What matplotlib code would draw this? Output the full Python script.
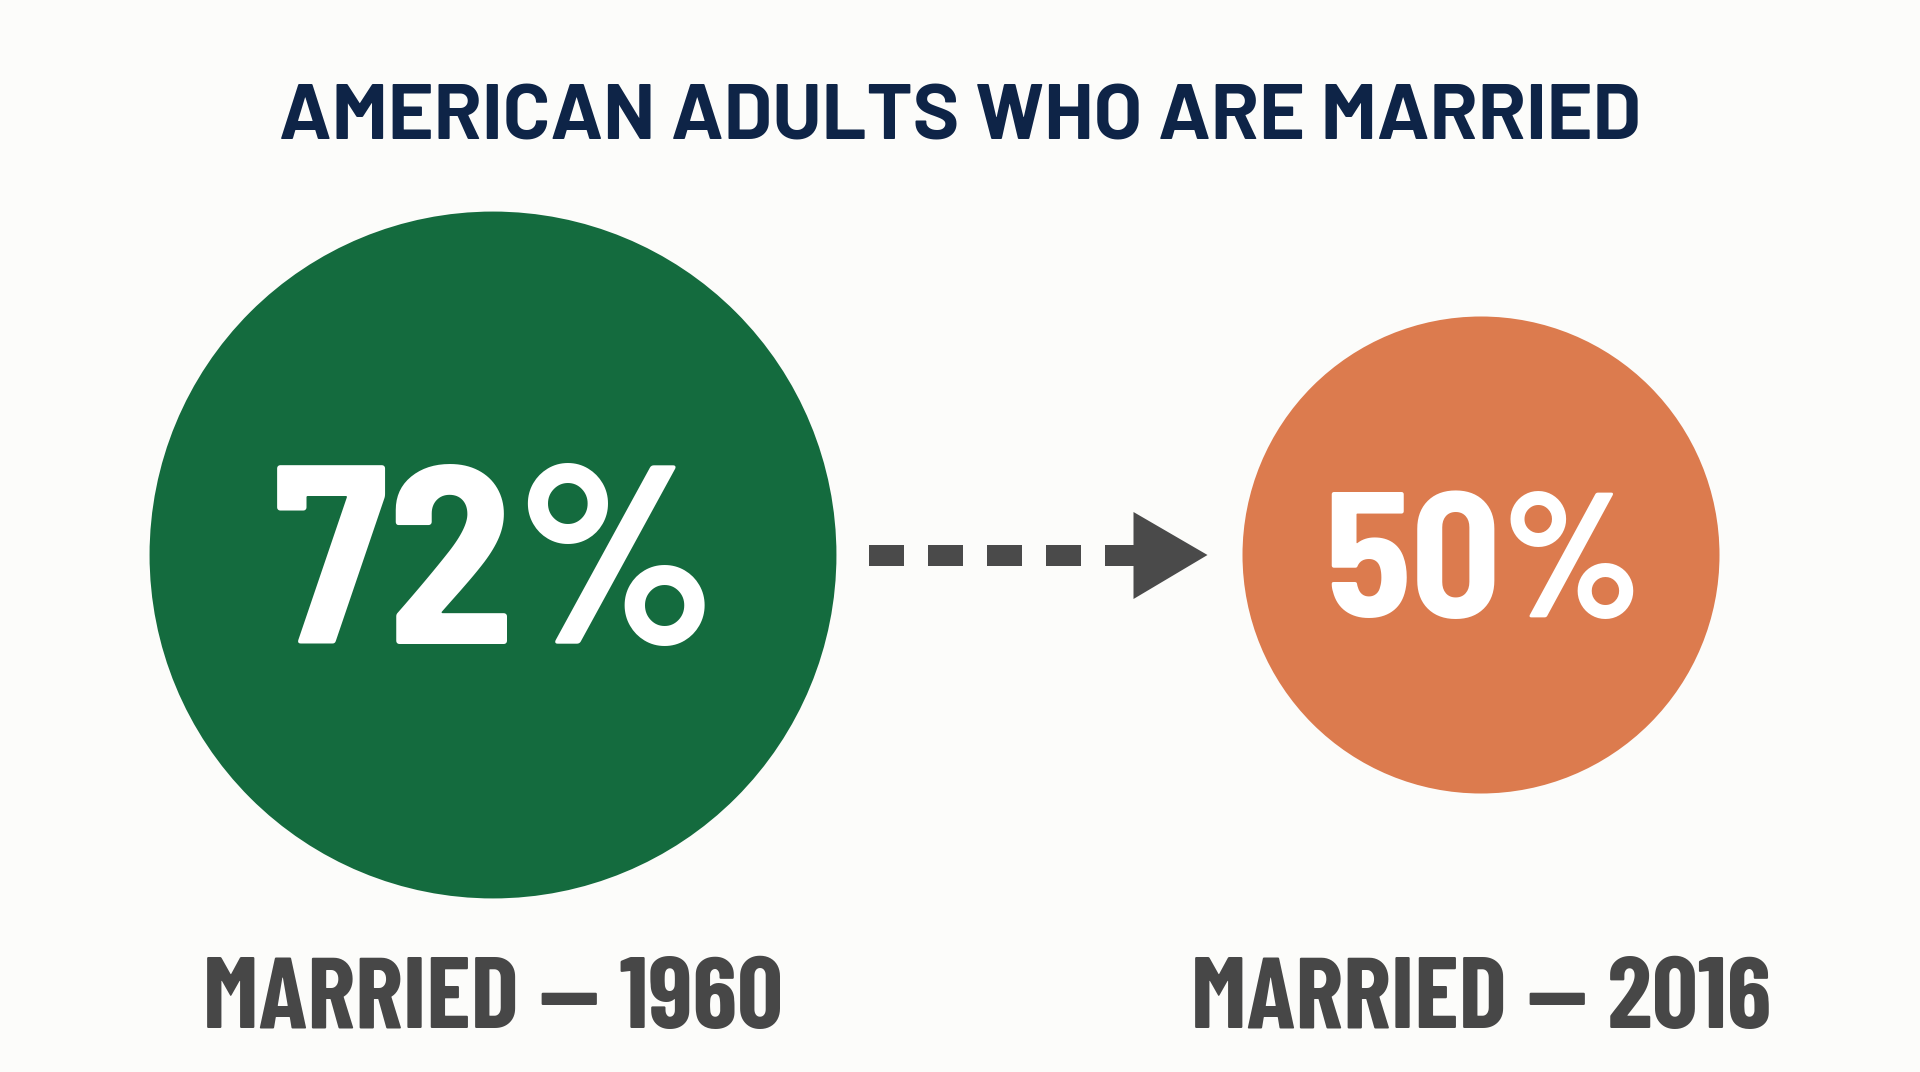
import matplotlib
matplotlib.use("Agg")
import matplotlib.pyplot as plt
from matplotlib.patches import Circle, Rectangle, Polygon

# data
title = "AMERICAN ADULTS WHO ARE MARRIED"
years = ["1960", "2016"]
married_pct = [72, 50]
circle_colors = ["#146b3e", "#dc7b4e"]

W, H = 1920, 1072
bg = "#fcfcfa"
COND = ["Barlow Condensed", "DejaVu Sans"]
SEMI = ["Barlow Semi Condensed", "DejaVu Sans"]
WIDE = ["Barlow", "DejaVu Sans"]
CAP = 0.70  # cap height of Barlow, in em
PX = 72 / 100  # points per pixel at dpi 100

fig = plt.figure(figsize=(W / 100, H / 100), dpi=100, facecolor=bg)
ax = fig.add_axes([0, 0, 1, 1])
ax.set_xlim(0, W)
ax.set_ylim(H, 0)
ax.set_aspect("equal")
ax.axis("off")

# circle area: radius grows with the value
px_per_pct = 4.77
centers_x = [493, 1481]
cy = 555
radii = [v * px_per_pct for v in married_pct]

for x, r, col, v, yr in zip(centers_x, radii, circle_colors, married_pct, years):
    ax.add_patch(Circle((x, cy), r, color=col, lw=0))
    cap = r * 0.52
    ax.text(x + 2, cy + cap / 2, f"{v}%", color="white", fontsize=cap / CAP * PX,
            family=SEMI, weight=700, ha="center", va="baseline")
    ax.text(x, 1028, f"MARRIED \u2014 {yr}", color="#474747", fontsize=71 / CAP * PX,
            family=COND, weight=700, ha="center", va="baseline")

ax.text(W / 2, 139, title, color="#0e2447", fontsize=55 / CAP * PX, family=WIDE,
        weight=700, ha="center", va="baseline")

# dashed arrow between the two circles
arrow_col = "#4a4a4a"
x0 = centers_x[0] + radii[0] + 33
x1 = centers_x[1] - radii[1] - 35
head_len = 74
dash_w, period, thick = 35, 59, 21
xs = x0
while xs + dash_w < x1 - head_len:
    ax.add_patch(Rectangle((xs, cy - thick / 2), dash_w, thick, color=arrow_col, lw=0))
    xs += period
ax.add_patch(Rectangle((xs, cy - thick / 2), x1 - head_len - xs + 1, thick, color=arrow_col, lw=0))
ax.add_patch(Polygon([(x1 - head_len, cy - 43), (x1, cy), (x1 - head_len, cy + 44)],
                     closed=True, color=arrow_col, lw=0))

fig.savefig("out.png", dpi=100, facecolor=bg)
